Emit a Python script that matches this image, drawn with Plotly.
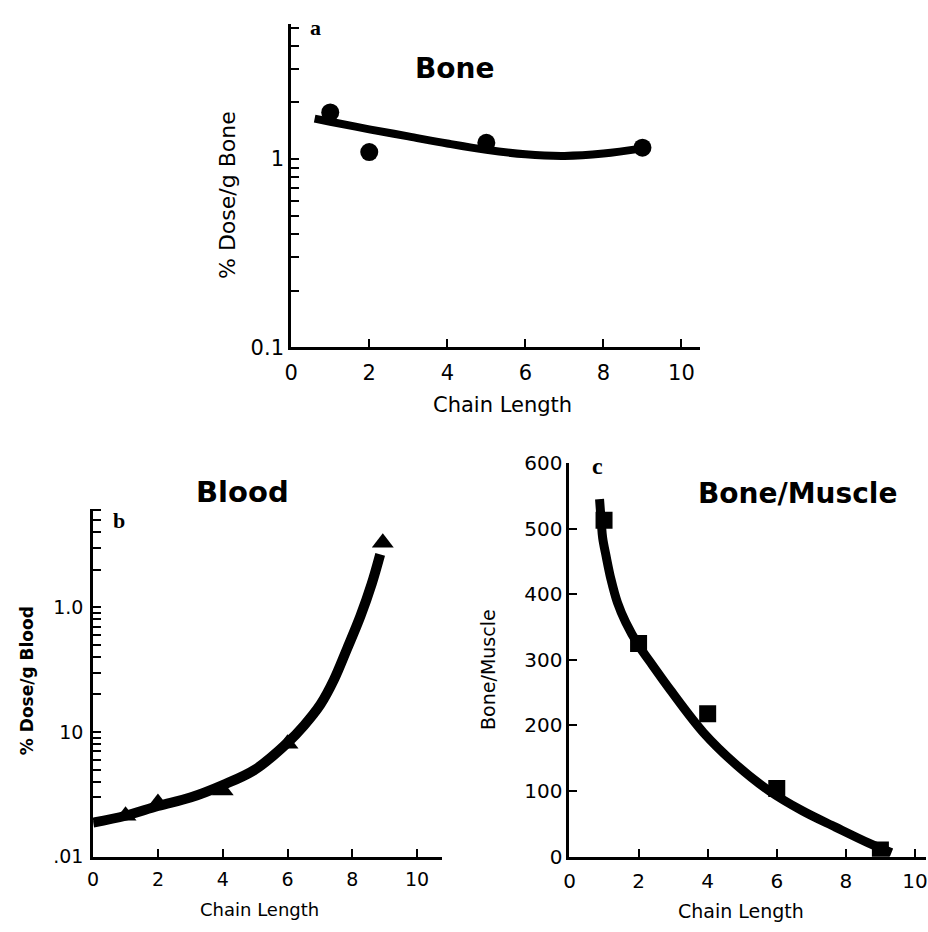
import plotly.graph_objects as go

W, H = 928, 932

# ---- Panel a: Bone (% dose per g bone, log scale) ----
bone_x = [1, 2, 5, 9]
bone_y = [1.77, 1.09, 1.22, 1.15]
bone_fit_x = [0.6, 1, 2, 3, 4, 5, 6, 7, 8, 9]
bone_fit_y = [1.64, 1.58, 1.44, 1.32, 1.21, 1.12, 1.06, 1.04, 1.07, 1.14]
bone_ytick_vals = [0.1, 0.2, 0.3, 0.4, 0.5, 0.6, 0.7, 0.8, 0.9, 1, 2, 3, 4, 5]
bone_ytick_text = ["0.1", "", "", "", "", "", "", "", "", "1", "", "", "", ""]

# ---- Panel b: Blood (% dose per g blood, log scale) ----
blood_x = [1, 2, 4, 6, 8.94]
blood_y = [0.0213, 0.0269, 0.034, 0.0806, 3.3]
blood_fit_x = [0, 1, 2, 3, 4, 5, 6, 6.51, 7.02, 7.43, 7.84, 8.25, 8.60, 8.86]
blood_fit_y = [0.0188, 0.0213, 0.0255, 0.0298, 0.0375, 0.050, 0.082, 0.113, 0.167, 0.262, 0.467, 0.85, 1.55, 2.66]
blood_ytick_vals = [0.01, 0.02, 0.03, 0.04, 0.05, 0.06, 0.07, 0.08, 0.09,
                    0.1, 0.2, 0.3, 0.4, 0.5, 0.6, 0.7, 0.8, 0.9,
                    1, 2, 3, 4, 5, 6]
blood_ytick_text = [".01", "", "", "", "", "", "", "", "",
                    "10", "", "", "", "", "", "", "", "",
                    "1.0", "", "", "", "", ""]

# ---- Panel c: Bone/Muscle ratio (linear scale) ----
ratio_x = [1, 2, 4, 6, 9]
ratio_y = [513, 325, 218, 104, 10]
ratio_fit_x = [0.87, 0.92, 0.96, 1.06, 1.20, 1.39, 1.63, 2.00, 2.40, 2.92, 3.88, 4.83, 5.79, 6.74, 7.70, 8.65, 9.32]
ratio_fit_y = [545, 510, 486, 458, 423, 387, 357, 322, 292, 254, 189, 140, 100, 70, 45, 21, 6]
ratio_ytick_vals = [0, 100, 200, 300, 400, 500, 600]

chain_ticks = [0, 2, 4, 6, 8, 10]

SANS = "DejaVu Sans, Arial, sans-serif"
SERIF = "Liberation Serif, Times New Roman, serif"


def px_x(p):
    return p / W


def px_y(p):
    return 1 - p / H


fig = go.Figure()

# panel a
fig.add_trace(go.Scatter(x=bone_fit_x, y=bone_fit_y, mode="lines", line=dict(color="black", width=8, shape="spline"),
                         xaxis="x", yaxis="y", showlegend=False))
fig.add_trace(go.Scatter(x=bone_x, y=bone_y, mode="markers", marker=dict(symbol="circle", size=18, color="black"),
                         xaxis="x", yaxis="y", showlegend=False))
# panel b
fig.add_trace(go.Scatter(x=blood_fit_x, y=blood_fit_y, mode="lines", line=dict(color="black", width=10, shape="spline"),
                         xaxis="x2", yaxis="y2", showlegend=False))
fig.add_trace(go.Scatter(x=blood_x, y=blood_y, mode="markers", marker=dict(symbol="triangle-up", size=19, color="black"),
                         xaxis="x2", yaxis="y2", showlegend=False))
# panel c
fig.add_trace(go.Scatter(x=ratio_fit_x, y=ratio_fit_y, mode="lines", line=dict(color="black", width=9, shape="spline"),
                         xaxis="x3", yaxis="y3", showlegend=False))
fig.add_trace(go.Scatter(x=ratio_x, y=ratio_y, mode="markers", marker=dict(symbol="square", size=17, color="black"),
                         xaxis="x3", yaxis="y3", showlegend=False))

axis_common = dict(showline=True, linecolor="black", linewidth=3, showgrid=False, zeroline=False,
                   ticks="inside", ticklen=8, tickwidth=2, tickcolor="black",
                   ticklabeloverflow="allow")

fig.update_layout(
    width=W, height=H, autosize=False,
    margin=dict(l=0, r=0, t=0, b=0, pad=0),
    paper_bgcolor="white", plot_bgcolor="white",
    xaxis=dict(domain=[px_x(287), px_x(700)], range=[0, 10.48], anchor="y", ticklabelstandoff=5,
               tickvals=chain_ticks, tickfont=dict(family=SANS, size=21, color="black"), **axis_common),
    yaxis=dict(domain=[px_y(344), px_y(12)], type="log", range=[-1, 0.72], anchor="x",
               tickvals=bone_ytick_vals, ticktext=bone_ytick_text,
               tickfont=dict(family=SANS, size=21, color="black"), **axis_common),
    xaxis2=dict(domain=[px_x(87), px_x(439)], range=[0, 10.76], anchor="y2", ticklabelstandoff=4,
                tickvals=chain_ticks, tickfont=dict(family=SANS, size=19, color="black"), **axis_common),
    yaxis2=dict(domain=[px_y(867), px_y(510)], type="log", range=[-2, 0.79], anchor="x2", ticklabelstandoff=3,
                tickvals=blood_ytick_vals, ticktext=blood_ytick_text,
                tickfont=dict(family=SANS, size=19, color="black"), **axis_common),
    xaxis3=dict(domain=[px_x(568), 1.0], range=[0, 10.32], anchor="y3", ticklabelstandoff=4,
                tickvals=chain_ticks, tickfont=dict(family=SANS, size=20, color="black"), **axis_common),
    yaxis3=dict(domain=[px_y(867), px_y(463)], range=[0, 600], anchor="x3",
                tickvals=ratio_ytick_vals, tickfont=dict(family=SANS, size=20, color="black"), **axis_common),
)


def label(text, x, y, size, family=SANS, bold=False, angle=0):
    fig.add_annotation(text=f"<b>{text}</b>" if bold else text, x=px_x(x), y=px_y(y),
                       xref="paper", yref="paper", showarrow=False, textangle=angle,
                       xanchor="center", yanchor="middle",
                       font=dict(family=family, size=size, color="black"))


# titles
label("Bone", 452, 58, 28, bold=True)
label("Blood", 238, 493, 29, bold=True)
label("Bone/Muscle", 798, 494, 28, bold=True)

# panel letters
label("a", 312, 16, 22, family=SERIF, bold=True)
label("b", 113, 522, 22, family=SERIF, bold=True)
label("c", 596, 466, 24, family=SERIF, bold=True)

# axis titles
label("% Dose/g Bone", 222, 188, 22, angle=-90)
label("Chain Length", 500, 403, 21)
label("% Dose/g Blood", 21, 686, 17, bold=True, angle=-90)
label("Chain Length", 255, 921, 18)
label("Bone/Muscle", 485, 675, 19, angle=-90)
label("Chain Length", 741, 923, 19)

# let the figure fill the page edge to edge
fig.write_html("out.html",
               post_script="document.body.style.margin='0';document.body.style.overflow='hidden';")
